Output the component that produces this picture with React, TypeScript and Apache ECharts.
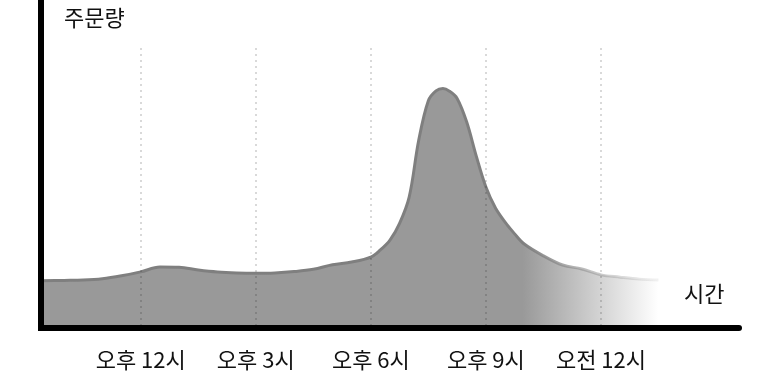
import React, { useEffect, useRef } from "react";
import * as echarts from "echarts";

const hours = [9.4, 10, 10.5, 11, 11.5, 12, 12.5, 13, 13.5, 14, 14.5, 15, 15.5, 16, 16.5, 17, 17.5, 18, 18.25, 18.5, 18.75, 19, 19.25, 19.5, 19.7, 19.88, 20.05, 20.25, 20.5, 20.75, 21, 21.25, 21.5, 21.75, 22, 22.5, 23, 23.5, 24, 24.5, 25, 25.5];
const orders = [14.4, 14.5, 14.6, 15.0, 15.9, 17.1, 18.6, 18.5, 17.7, 17.1, 16.8, 16.7, 16.8, 17.2, 17.9, 19.3, 20.1, 21.6, 23.8, 26.8, 31.9, 39.9, 57.3, 69.3, 72.3, 73.0, 72.2, 70.0, 62.8, 52.4, 43.0, 36.6, 32.3, 28.7, 25.6, 22.0, 19.2, 18.0, 16.2, 15.5, 14.9, 14.6];
const tickHours = [12, 15, 18, 21, 24];
const tickLabels = ["오후 12시", "오후 3시", "오후 6시", "오후 9시", "오전 12시"];
const yTitle = "주문량";
const xTitle = "시간";

const FONT = "'Noto Sans CJK KR', 'Noto Sans', sans-serif";

export default function App() {
  const ref = useRef<HTMLDivElement>(null);
  useEffect(() => {
    document.body.style.margin = "0";
    if (!ref.current) return;
    const chart = echarts.init(ref.current, null, { renderer: "svg" });
    const data = hours.map((h, i) => [h, orders[i]]);
    chart.setOption({
      animation: false,
      grid: { left: 41, right: 29, top: 0, bottom: 47 },
      xAxis: {
        type: "value",
        min: 9.4,
        max: 27.6,
        z: 10,
        axisLine: { show: true, lineStyle: { color: "#000", width: 6 } },
        axisTick: { show: false },
        splitLine: { show: false },
        axisLabel: {
          show: true,
          customValues: tickHours,
          formatter: (v: number) => {
            const i = tickHours.indexOf(v);
            return i >= 0 ? tickLabels[i] : "";
          },
          margin: 19,
          fontSize: 22,
          color: "#111",
          fontFamily: FONT,
        },
      },
      yAxis: {
        type: "value",
        min: 0,
        max: 100,
        z: 10,
        axisLine: { show: true, lineStyle: { color: "#000", width: 6 } },
        axisTick: { show: false },
        axisLabel: { show: false },
        splitLine: { show: false },
      },
      graphic: [
        { type: "rect", left: 38, top: 325, z: 20, shape: { width: 6, height: 6 }, style: { fill: "#000" } },
        { type: "text", left: 64, top: 5, style: { text: yTitle, fontSize: 22, fill: "#111", fontFamily: FONT } },
        { type: "text", left: 684, top: 281, style: { text: xTitle, fontSize: 22, fill: "#111", fontFamily: FONT } },
      ],
      series: [
        {
          type: "line",
          data,
          smooth: 0.35,
          symbol: "none",
          lineStyle: {
            width: 3,
            color: {
              type: "linear", x: 0, y: 0, x2: 1, y2: 0,
              colorStops: [
                { offset: 0, color: "#7f7f7f" },
                { offset: 0.78, color: "#7f7f7f" },
                { offset: 1, color: "rgba(170,170,170,0.15)" },
              ],
            },
          },
          areaStyle: {
            opacity: 1,
            color: {
              type: "linear", x: 0, y: 0, x2: 1, y2: 0,
              colorStops: [
                { offset: 0, color: "#999999" },
                { offset: 0.78, color: "#999999" },
                { offset: 1, color: "#ffffff" },
              ],
            },
          },
          markLine: {
            silent: true,
            symbol: "none",
            label: { show: false },
            lineStyle: { color: "rgba(0,0,0,0.15)", width: 2, type: [2, 4] },
            data: tickHours.map((h) => [{ coord: [h, 85.4] }, { coord: [h, 0] }]),
          },
        },
      ],
    });
    return () => chart.dispose();
  }, []);
  return <div ref={ref} style={{ position: "fixed", left: 0, top: 0, width: 768, height: 375 }} />;
}
